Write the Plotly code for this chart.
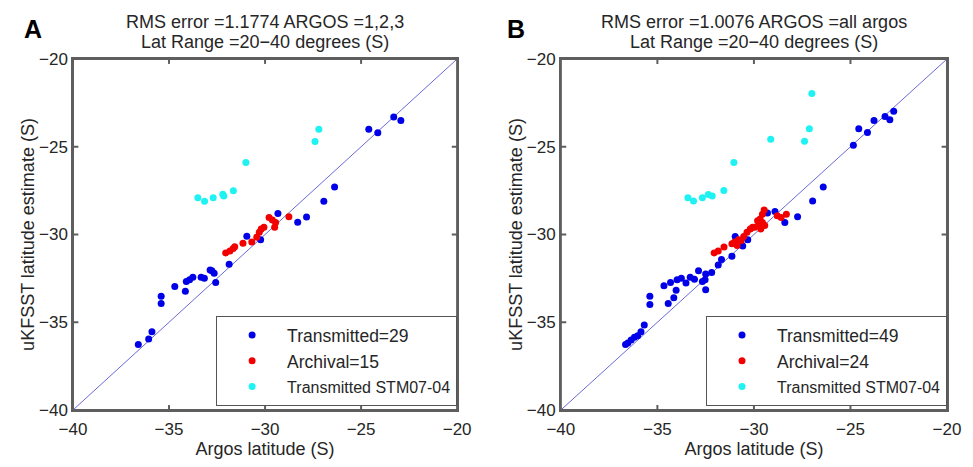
import plotly.graph_objects as go

# ---------------- data ----------------
# Panel A (ARGOS = 1,2,3)
a_trans_x = [-24.6, -24.13, -23.3, -22.93, -26.38, -26.94, -27.84, -28.3, -29.33, -30.23, -30.95, -31.87,
             -32.57, -32.65, -32.77, -32.86, -33.16, -33.33, -33.76, -33.93, -34.1, -34.15, -34.7,
             -35.41, -35.41, -35.89, -36.06, -36.6]
a_trans_y = [-24.0, -24.2, -23.3, -23.5, -27.3, -28.1, -29.0, -29.3, -28.8, -30.3, -30.1, -31.7,
             -32.73, -32.21, -32.06, -32.02, -32.49, -32.43, -32.43, -32.58, -32.68, -33.24, -32.96,
             -33.52, -33.93, -35.54, -35.96, -36.27]
a_arch_x = [-32.05, -31.83, -31.66, -31.58, -31.15, -30.69, -30.43, -30.3, -30.2, -30.06, -29.79, -29.62,
            -29.5, -29.45, -28.76]
a_arch_y = [-31.05, -30.94, -30.8, -30.7, -30.5, -30.43, -30.15, -29.87, -29.68, -29.59, -29.03, -29.18,
            -29.59, -29.31, -28.99]
a_stm_x = [-33.5, -33.15, -32.7, -32.2, -32.15, -31.65, -31.0, -27.4, -27.2]
a_stm_y = [-27.9, -28.1, -27.9, -27.7, -27.8, -27.5, -25.9, -24.7, -24.0]

# Panel B (ARGOS = all)
b_trans_x = [-22.76, -22.96, -23.21, -23.78, -24.12, -24.57, -24.85, -26.41, -26.96, -27.74, -28.4, -28.91,
             -29.3, -30.32, -30.58, -30.97, -31.14, -31.68, -31.85,
             -32.19, -32.5, -32.5, -32.53, -32.67, -32.87, -33.08, -33.3, -33.52, -33.76, -33.98, -34.03,
             -34.15, -34.32, -34.44, -34.66, -35.39, -35.39, -35.68, -35.85, -36.02, -36.19, -36.36,
             -36.53, -36.65]
b_trans_y = [-22.98, -23.46, -23.28, -23.5, -24.19, -23.97, -24.91, -27.3, -28.09, -28.99, -29.31, -28.69,
             -28.78, -30.3, -30.66, -30.11, -31.24, -31.42, -31.74,
             -32.17, -32.25, -33.15, -32.58, -32.68, -32.06, -32.55, -32.43, -32.77, -32.49, -32.58, -33.18,
             -33.61, -32.73, -33.93, -32.92, -33.52, -33.99, -35.15, -35.54, -35.77, -35.86, -36.01,
             -36.18, -36.27]
b_arch_x = [-32.06, -31.85, -31.55, -31.14, -31.0, -30.87, -30.53, -30.36, -30.19, -30.07, -29.95, -29.73,
            -29.68, -29.56, -29.47, -29.56, -29.64, -29.44, -28.79, -28.59, -28.32, -30.66, -30.8, -29.81]
b_arch_y = [-31.05, -30.94, -30.71, -30.52, -30.43, -30.62, -30.11, -29.87, -29.68, -29.59, -29.59, -29.4,
            -29.12, -28.84, -28.6, -29.31, -29.68, -29.49, -28.93, -29.03, -28.84, -30.34, -30.3, -29.21]
b_stm_x = [-33.42, -33.13, -32.67, -32.36, -32.16, -31.56, -31.04, -29.13, -27.38, -27.13, -27.0]
b_stm_y = [-27.9, -28.09, -27.9, -27.72, -27.81, -27.49, -25.9, -24.57, -24.68, -23.97, -21.97]

axis_range = [-40, -20]
one_to_one = [-40, -20]
tick_vals = [-40, -35, -30, -25, -20]

title_line1 = ["RMS error =1.1774 ARGOS =1,2,3", "RMS error =1.0076 ARGOS =all argos"]
title_line2 = ["Lat Range =20\u221240 degrees (S)", "Lat Range =20\u221240 degrees (S)"]
panel_labels = ["A", "B"]
legend_names = [["Transmitted=29", "Archival=15", "Transmitted STM07-04"],
                ["Transmitted=49", "Archival=24", "Transmitted STM07-04"]]
x_title = "Argos latitude (S)"
y_title = "uKFSST latitude estimate (S)"

# ---------------- styles ----------------
FONT = "Liberation Sans, Arial, Helvetica, sans-serif"
BLUE = "#0000e8"
RED = "#f20000"
CYAN = "#1ff2f2"
LINE = "#6a6ad8"
AXIS = "#5e5e5e"
TXT = "#262626"
MS = 7
TICK_FRAC = 0.014  # inner tick length as a fraction of the axis span


def frame_path(lo, hi, ticks):
    """Box outline plus inward tick marks on all four sides (axis decoration)."""
    span = hi - lo
    t = TICK_FRAC * span
    xs = [lo, hi, hi, lo, lo, None]
    ys = [lo, lo, hi, hi, lo, None]
    for v in ticks:
        if v in (lo, hi):
            continue
        xs += [v, v, None, v, v, None, lo, lo + t, None, hi, hi - t, None]
        ys += [lo, lo + t, None, hi, hi - t, None, v, v, None, v, v, None]
    return xs, ys


fig = go.Figure()

panels = [
    (a_trans_x, a_trans_y, a_arch_x, a_arch_y, a_stm_x, a_stm_y),
    (b_trans_x, b_trans_y, b_arch_x, b_arch_y, b_stm_x, b_stm_y),
]
fx, fy = frame_path(axis_range[0], axis_range[1], tick_vals)
for i, (tx, ty, ax_, ay_, sx, sy) in enumerate(panels):
    xa = "x" if i == 0 else "x2"
    ya = "y" if i == 0 else "y2"
    lg = "legend" if i == 0 else "legend2"
    fig.add_trace(go.Scatter(x=one_to_one, y=one_to_one, mode="lines", line=dict(color=LINE, width=1),
                             showlegend=False, xaxis=xa, yaxis=ya, hoverinfo="skip"))
    names = legend_names[i]
    fig.add_trace(go.Scatter(x=tx, y=ty, mode="markers", name=names[0],
                             marker=dict(color=BLUE, size=MS), xaxis=xa, yaxis=ya, legend=lg))
    fig.add_trace(go.Scatter(x=ax_, y=ay_, mode="markers", name=names[1],
                             marker=dict(color=RED, size=MS), xaxis=xa, yaxis=ya, legend=lg))
    fig.add_trace(go.Scatter(x=sx, y=sy, mode="markers",
                             name=f'<span style="font-size:16px">{names[2]}</span>',
                             marker=dict(color=CYAN, size=MS), xaxis=xa, yaxis=ya, legend=lg))
    # axes box + ticks
    fig.add_trace(go.Scatter(x=fx, y=fy, mode="lines", line=dict(color=AXIS, width=2),
                             cliponaxis=False, showlegend=False, hoverinfo="skip", xaxis=xa, yaxis=ya))


def axis():
    return dict(range=axis_range, tickvals=tick_vals, ticks="", showline=True, linecolor=AXIS,
                linewidth=1.5, mirror=True, showgrid=False, zeroline=False,
                tickfont=dict(size=17, color=TXT, family=FONT))


XA = [0.0, 0.4395]
XB = [0.5582, 1.0]

fig.update_layout(
    width=973, height=467,
    margin=dict(l=73, r=15, t=59, b=51),
    paper_bgcolor="white", plot_bgcolor="white",
    font=dict(family=FONT, color=TXT, size=18),
    xaxis=dict(domain=XA, anchor="y", ticklabelstandoff=3,
               title=dict(text=x_title, font=dict(size=18), standoff=3), **axis()),
    yaxis=dict(domain=[0, 1], anchor="x", title=dict(text=y_title, font=dict(size=18), standoff=0), **axis()),
    xaxis2=dict(domain=XB, anchor="y2", ticklabelstandoff=3,
                title=dict(text=x_title, font=dict(size=18), standoff=3), **axis()),
    yaxis2=dict(domain=[0, 1], anchor="x2", title=dict(text=y_title, font=dict(size=18), standoff=0), **axis()),
    legend=dict(x=XA[1], xanchor="right", y=0.011, yanchor="bottom", bgcolor="white",
                bordercolor="#555555", borderwidth=1, font=dict(size=17.5, color=TXT, family=FONT),
                itemwidth=60, traceorder="normal"),
    legend2=dict(x=XB[1], xanchor="right", y=0.011, yanchor="bottom", bgcolor="white",
                 bordercolor="#555555", borderwidth=1, font=dict(size=17.5, color=TXT, family=FONT),
                 itemwidth=60, traceorder="normal"),
    showlegend=True,
)

for i, dom in enumerate([XA, XB]):
    xr = "x domain" if i == 0 else "x2 domain"
    fig.add_annotation(text=title_line1[i], xref=xr, x=0.5, yref="paper", y=1, yanchor="middle", yshift=37,
                       showarrow=False, font=dict(size=18, color=TXT, family=FONT))
    fig.add_annotation(text=title_line2[i], xref=xr, x=0.5, yref="paper", y=1, yanchor="middle", yshift=17,
                       showarrow=False, font=dict(size=18, color=TXT, family=FONT))
    fig.add_annotation(text=f"<b>{panel_labels[i]}</b>", xref="paper", x=dom[0], xanchor="left",
                       xshift=-51 if i == 0 else -56, yref="paper", y=1, yanchor="bottom", yshift=14,
                       showarrow=False, font=dict(size=25, color="black", family=FONT))

fig.write_html("out.html", config={"displayModeBar": False},
               post_script="document.body.style.margin='0px';document.body.style.overflow='hidden';")
